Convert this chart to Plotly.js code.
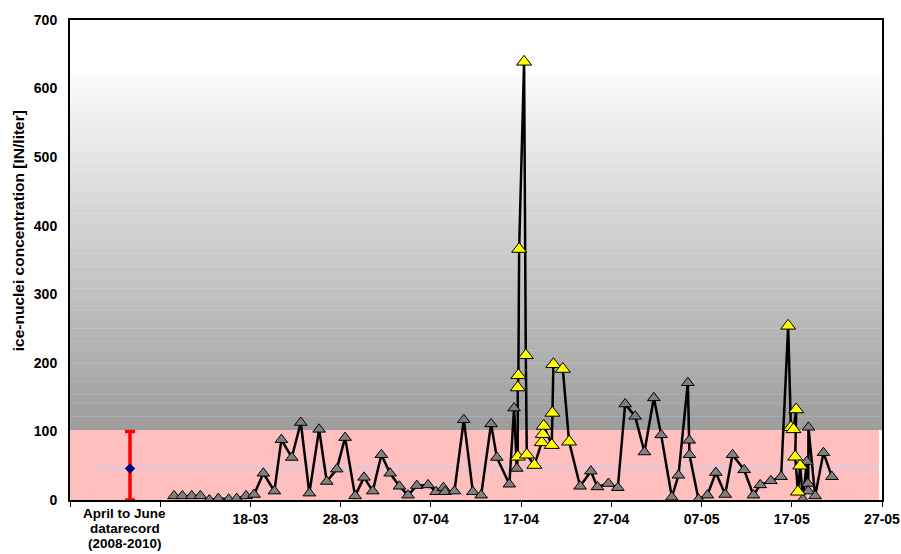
<!DOCTYPE html>
<html>
<head>
<meta charset="utf-8">
<script src="https://cdn.plot.ly/plotly-3.0.1.min.js"></script>
<style>
  html, body { margin: 0; padding: 0; background: #ffffff; }
  #chart { width: 901px; height: 554px; }
</style>
</head>
<body>
<div id="chart"></div>
<script>
// ---- data (x = days after 26-02) ----
const days = [
  11.53, 12.45, 13.49, 14.45, 15.44, 16.44, 17.59, 18.48, 19.51, 20.40,
  21.43, 22.65, 23.43, 24.58, 25.58, 26.53, 27.61, 28.46, 29.57, 30.49,
  31.60, 32.59, 33.56, 34.51, 35.48, 36.51, 37.47, 38.44, 39.69, 40.58,
  41.39, 41.57, 42.61, 43.65, 44.65, 45.57, 46.67, 47.31, 48.70, 49.22,
  49.52, 49.63, 49.63, 49.70, 49.78, 50.33, 50.52, 50.63, 51.47, 52.29,
  52.40, 52.51, 53.40, 53.47, 53.58, 54.62, 55.32, 56.54, 57.73, 58.46,
  59.68, 60.72, 61.53, 62.64, 63.67, 64.71, 65.52, 66.71, 67.44, 68.48,
  68.63, 68.66, 69.66, 70.65, 71.58, 72.62, 73.43, 74.72, 75.75, 76.50,
  77.68, 78.82, 79.60, 79.90, 80.19, 80.49, 80.38, 80.68, 80.93, 81.23,
  81.67, 81.78, 81.82, 81.85, 82.59, 83.51, 84.45
];
const conc = [
  6, 6, 6, 6, 0, 2, 1, 2, 6, 8,
  39, 13, 88, 62, 113, 10, 103, 27, 45, 91,
  6, 33, 13, 66, 39, 20, 7, 21, 22, 12,
  18, 12, 13, 117, 12, 7, 111, 62, 23, 134,
  46, 63, 164, 182, 366, 639, 211, 66, 51, 84,
  96, 108, 80, 127, 198, 191, 85, 20, 42, 19,
  24, 18, 140, 122, 70, 149, 95, 4, 36, 171,
  87, 66, 1, 7, 40, 8, 66, 44, 7, 22,
  28, 34, 254, 106, 103, 132, 63, 12, 50, 1,
  56, 24, 13, 106, 6, 69, 34
];
const highlighted = [
  0, 0, 0, 0, 0, 0, 0, 0, 0, 0,
  0, 0, 0, 0, 0, 0, 0, 0, 0, 0,
  0, 0, 0, 0, 0, 0, 0, 0, 0, 0,
  0, 0, 0, 0, 0, 0, 0, 0, 0, 0,
  0, 1, 1, 1, 1, 1, 1, 1, 1, 1,
  1, 1, 1, 1, 1, 1, 1, 0, 0, 0,
  0, 0, 0, 0, 0, 0, 0, 0, 0, 0,
  0, 0, 0, 0, 0, 0, 0, 0, 0, 0,
  0, 0, 1, 1, 1, 1, 1, 1, 1, 0,
  0, 0, 0, 0, 0, 0, 0
];

const tickDays   = [0, 10, 20, 30, 40, 50, 60, 70, 80, 90];
const tickLabels = ['', '', '18-03', '28-03', '07-04', '17-04', '27-04', '07-05', '17-05', '27-05'];

const recordLabelLines = ['April to June', 'datarecord', '(2008-2010)'];
const recordDay = 6.65;
const recordMean = 46;
const recordMin = 0;
const recordMax = 100;

const bandTop = 102;
const gradientTop = 617;

const yTitle = 'ice-nuclei concentration [IN/liter]';

// ---- traces ----
const hlX = days.filter((d, i) => highlighted[i]);
const hlY = conc.filter((d, i) => highlighted[i]);

const traces = [
  {
    x: days, y: conc, type: 'scatter', mode: 'lines+markers',
    line: { color: '#000000', width: 2.5 },
    marker: { symbol: 'triangle-up', size: 11, color: '#808080', line: { color: '#000000', width: 1 } },
    hoverinfo: 'x+y', showlegend: false
  },
  {
    x: hlX, y: hlY, type: 'scatter', mode: 'markers',
    marker: { symbol: 'triangle-up', size: 13, color: '#FFFF00', line: { color: '#000000', width: 1 } },
    showlegend: false
  },
  {
    x: [recordDay], y: [recordMean], type: 'scatter', mode: 'markers',
    marker: { symbol: 'diamond', size: 8, color: '#000080' },
    error_y: { type: 'data', symmetric: false, array: [recordMax - recordMean], arrayminus: [recordMean - recordMin],
               color: '#FF0000', thickness: 3.5, width: 5 },
    showlegend: false
  }
];

// ---- background shapes ----
const shapes = [];
const steps = 80;
const c0 = 0x9C, c1 = 0xFA;
for (let k = 0; k < steps; k++) {
  const y0 = bandTop + (gradientTop - bandTop) * k / steps;
  const y1 = bandTop + (gradientTop - bandTop) * (k + 1) / steps;
  const c = Math.round(c0 + (c1 - c0) * (k + 0.5) / steps);
  shapes.push({ type: 'rect', layer: 'below', xref: 'x', yref: 'y',
    x0: 0, x1: 90, y0: y0, y1: y1 + 0.5, fillcolor: `rgb(${c},${c},${c})`, line: { width: 0 } });
}
shapes.push({ type: 'rect', layer: 'below', xref: 'x', yref: 'y',
  x0: 0, x1: 89.65, y0: 0, y1: bandTop, fillcolor: '#FFBFBF', line: { width: 0 } });
shapes.push({ type: 'line', layer: 'below', xref: 'x', yref: 'y',
  x0: 2.8, x1: 89.65, y0: recordMean + 1, y1: recordMean + 1, line: { color: '#CCCCEE', width: 2 } });

const font = 'Liberation Sans, Arial, sans-serif';

const labelFont = { family: font, size: 14, color: '#000000', weight: 'bold' };
const recordFont = { family: font, size: 13.5, color: '#000000', weight: 'bold' };
const annotations = recordLabelLines.map((t, i) => ({
  x: recordDay - 0.6, y: -0.029 - i * 0.0313, xref: 'x', yref: 'paper',
  xanchor: 'center', yanchor: 'middle', text: t, showarrow: false, font: recordFont
}));
annotations.push({
  x: -0.064, y: 0.56, xref: 'paper', yref: 'paper', xanchor: 'center', yanchor: 'middle',
  text: yTitle, textangle: -90, showarrow: false,
  font: { family: font, size: 15.5, color: '#000000', weight: 'bold' }
});

const layout = {
  width: 901, height: 554,
  margin: { l: 70, r: 19, t: 20, b: 54 },
  paper_bgcolor: '#ffffff', plot_bgcolor: '#ffffff',
  showlegend: false,
  font: { family: font, size: 14, color: '#000000' },
  xaxis: {
    range: [0, 90], tickmode: 'array', tickvals: tickDays, ticktext: tickLabels,
    ticks: 'outside', ticklen: 5, tickcolor: '#000000', tickwidth: 1,
    showgrid: false, zeroline: false,
    showline: true, mirror: true, linecolor: '#000000', linewidth: 2,
    tickfont: labelFont
  },
  yaxis: {
    range: [0, 700], tickmode: 'array', tickvals: [0, 100, 200, 300, 400, 500, 600, 700],
    ticks: '', showgrid: false, zeroline: false,
    showline: true, mirror: true, linecolor: '#000000', linewidth: 2,
    ticklabelstandoff: 8,
    tickfont: labelFont
  },
  shapes: shapes,
  annotations: annotations
};

Plotly.newPlot('chart', traces, layout, { displayModeBar: false, staticPlot: true });
</script>
</body>
</html>
